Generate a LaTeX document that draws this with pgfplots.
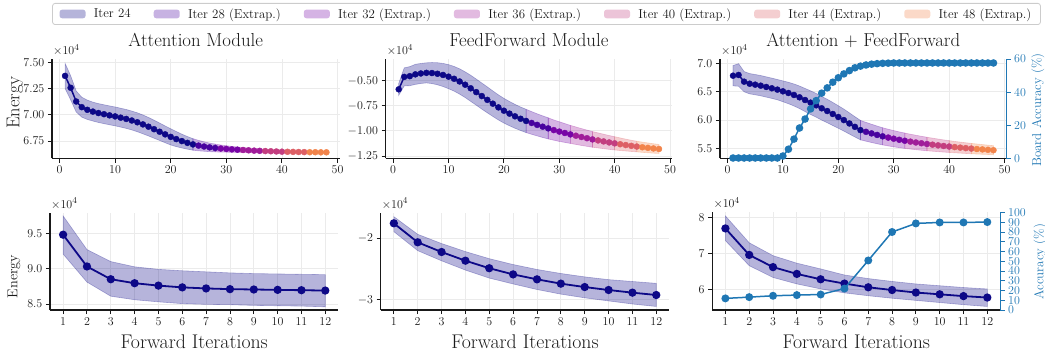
\documentclass[border=0pt]{standalone}
\usepackage{pgfplots}
\pgfplotsset{compat=1.18}
\usepackage{pgfplotstable}
\usepgfplotslibrary{fillbetween}

\definecolor{cA}{HTML}{0D0887}
\definecolor{cB}{HTML}{48039F}
\definecolor{cC}{HTML}{7705A6}
\definecolor{cD}{HTML}{A01C9A}
\definecolor{cE}{HTML}{C33E80}
\definecolor{cF}{HTML}{DD5F65}
\definecolor{cG}{HTML}{F2844B}
\definecolor{tabblue}{HTML}{1F77B4}
\definecolor{gridc}{HTML}{EBEBEB}
\definecolor{txt}{HTML}{1A1A1A}

\newcommand{\tickfont}{\fontsize{12.9}{15}\selectfont}

\pgfplotstableread{
x y lo hi
1 7.370 7.250 7.490
2 7.257 7.142 7.372
3 7.126 7.026 7.226
4 7.072 6.977 7.167
5 7.047 6.955 7.139
6 7.030 6.940 7.120
7 7.016 6.926 7.106
8 7.005 6.915 7.095
9 6.994 6.904 7.084
10 6.984 6.894 7.074
11 6.972 6.882 7.062
12 6.960 6.870 7.050
13 6.945 6.855 7.035
14 6.928 6.838 7.018
15 6.908 6.818 6.998
16 6.886 6.798 6.974
17 6.862 6.776 6.948
18 6.838 6.755 6.921
19 6.813 6.733 6.893
20 6.789 6.712 6.866
21 6.768 6.696 6.840
22 6.749 6.683 6.815
23 6.732 6.672 6.792
24 6.717 6.662 6.772
25 6.706 6.656 6.756
26 6.697 6.652 6.742
27 6.689 6.648 6.730
28 6.683 6.646 6.720
29 6.678 6.644 6.712
30 6.674 6.643 6.705
31 6.670 6.642 6.698
32 6.667 6.641 6.693
33 6.664 6.640 6.688
34 6.661 6.639 6.683
35 6.658 6.638 6.678
36 6.656 6.638 6.674
37 6.654 6.637 6.671
38 6.652 6.636 6.668
39 6.650 6.635 6.665
40 6.648 6.634 6.662
41 6.647 6.634 6.660
42 6.646 6.633 6.659
43 6.645 6.633 6.657
44 6.644 6.632 6.656
45 6.643 6.632 6.654
46 6.643 6.632 6.654
47 6.642 6.632 6.652
48 6.642 6.632 6.652
}\attnT

\pgfplotstableread{
x y lo hi
1 -0.586 -0.646 -0.526
2 -0.462 -0.552 -0.372
3 -0.455 -0.550 -0.360
4 -0.437 -0.537 -0.337
5 -0.428 -0.528 -0.328
6 -0.422 -0.522 -0.322
7 -0.424 -0.529 -0.319
8 -0.431 -0.541 -0.321
9 -0.443 -0.558 -0.328
10 -0.460 -0.580 -0.340
11 -0.481 -0.604 -0.358
12 -0.508 -0.634 -0.382
13 -0.540 -0.668 -0.412
14 -0.576 -0.706 -0.446
15 -0.614 -0.744 -0.484
16 -0.653 -0.783 -0.523
17 -0.691 -0.820 -0.562
18 -0.729 -0.856 -0.602
19 -0.766 -0.891 -0.641
20 -0.799 -0.922 -0.676
21 -0.828 -0.949 -0.707
22 -0.855 -0.974 -0.736
23 -0.879 -0.996 -0.762
24 -0.901 -1.017 -0.785
25 -0.921 -1.034 -0.808
26 -0.940 -1.050 -0.830
27 -0.958 -1.066 -0.850
28 -0.975 -1.080 -0.870
29 -0.992 -1.093 -0.891
30 -1.007 -1.105 -0.909
31 -1.021 -1.115 -0.927
32 -1.035 -1.125 -0.945
33 -1.048 -1.135 -0.961
34 -1.061 -1.145 -0.977
35 -1.073 -1.154 -0.992
36 -1.085 -1.163 -1.007
37 -1.095 -1.170 -1.020
38 -1.105 -1.177 -1.033
39 -1.115 -1.184 -1.046
40 -1.124 -1.190 -1.058
41 -1.133 -1.196 -1.070
42 -1.141 -1.200 -1.082
43 -1.149 -1.205 -1.093
44 -1.156 -1.209 -1.103
45 -1.163 -1.214 -1.112
46 -1.169 -1.218 -1.120
47 -1.175 -1.222 -1.128
48 -1.180 -1.225 -1.135
}\ffT

\pgfplotstableread{
x y lo hi
1 6.787 6.607 6.967
2 6.800 6.600 7.000
3 6.681 6.501 6.861
4 6.645 6.465 6.825
5 6.628 6.448 6.808
6 6.610 6.430 6.790
7 6.587 6.407 6.767
8 6.564 6.384 6.744
9 6.540 6.360 6.720
10 6.510 6.325 6.695
11 6.480 6.290 6.670
12 6.445 6.250 6.640
13 6.404 6.204 6.604
14 6.356 6.151 6.561
15 6.309 6.099 6.519
16 6.262 6.052 6.472
17 6.209 5.999 6.419
18 6.161 5.953 6.369
19 6.108 5.903 6.313
20 6.055 5.855 6.255
21 6.000 5.805 6.195
22 5.940 5.752 6.128
23 5.880 5.700 6.060
24 5.822 5.650 5.994
25 5.792 5.625 5.959
26 5.764 5.602 5.926
27 5.737 5.580 5.894
28 5.712 5.560 5.864
29 5.690 5.542 5.838
30 5.670 5.526 5.814
31 5.651 5.511 5.791
32 5.634 5.498 5.770
33 5.618 5.486 5.750
34 5.603 5.475 5.731
35 5.589 5.465 5.713
36 5.576 5.456 5.696
37 5.564 5.448 5.680
38 5.552 5.440 5.664
39 5.541 5.433 5.649
40 5.531 5.426 5.636
41 5.521 5.420 5.622
42 5.512 5.414 5.610
43 5.503 5.408 5.598
44 5.495 5.403 5.587
45 5.487 5.398 5.576
46 5.480 5.394 5.566
47 5.473 5.390 5.556
48 5.466 5.386 5.546
}\bothT

\pgfplotstableread{
x a
1 0.3
2 0.3
3 0.3
4 0.3
5 0.3
6 0.3
7 0.3
8 0.3
9 0.3
10 1.5
11 5.6
12 11.7
13 18.4
14 23.8
15 29.9
16 34.9
17 39.4
18 42.6
19 46.0
20 48.7
21 51.0
22 53.0
23 54.7
24 55.7
25 56.4
26 56.9
27 57.2
28 57.4
29 57.5
30 57.6
31 57.6
32 57.6
33 57.6
34 57.6
35 57.6
36 57.6
37 57.6
38 57.6
39 57.6
40 57.6
41 57.6
42 57.6
43 57.6
44 57.6
45 57.6
46 57.6
47 57.6
48 57.6
}\accTopT

\pgfplotstableread{
x y lo hi
1 9.480 9.206 9.746
2 9.031 8.810 9.270
3 8.850 8.610 9.100
4 8.794 8.560 9.026
5 8.760 8.530 8.990
6 8.735 8.505 8.970
7 8.720 8.495 8.955
8 8.710 8.490 8.940
9 8.705 8.480 8.930
10 8.700 8.475 8.925
11 8.695 8.470 8.920
12 8.690 8.460 8.915
}\attnB

\pgfplotstableread{
x y lo hi
1 -1.762 -1.897 -1.654
2 -2.070 -2.205 -1.940
3 -2.227 -2.370 -2.090
4 -2.368 -2.520 -2.220
5 -2.490 -2.650 -2.335
6 -2.590 -2.745 -2.430
7 -2.670 -2.835 -2.510
8 -2.740 -2.910 -2.575
9 -2.795 -2.970 -2.630
10 -2.843 -3.020 -2.675
11 -2.886 -3.070 -2.705
12 -2.924 -3.110 -2.735
}\ffB

\pgfplotstableread{
x y lo hi
1 7.700 7.360 8.050
2 6.960 6.660 7.300
3 6.620 6.330 6.940
4 6.430 6.150 6.730
5 6.280 6.010 6.570
6 6.160 5.900 6.400
7 6.056 5.820 6.300
8 5.980 5.750 6.220
9 5.910 5.690 6.150
10 5.860 5.630 6.100
11 5.810 5.570 6.050
12 5.770 5.520 6.010
}\bothB

\pgfplotstableread{
x a
1 11.9
2 13.2
3 14.6
4 15.3
5 15.9
6 22.0
7 50.8
8 80.0
9 88.8
10 89.8
11 89.8
12 90.2
}\accBotT

\pgfplotsset{
  base/.style={
    scale only axis, anchor=south west, clip=false,
    axis x line*=bottom, axis y line*=left,
    axis line style={line width=1.1pt, black!90},
    tick align=outside, major tick length=4.2pt,
    tick style={line width=0.9pt, black!90},
    xmajorgrids, ymajorgrids,
    grid style={line width=0.8pt, gridc},
    tick label style={font=\tickfont, text=txt},
    title style={font=\fontsize{18.8}{21}\selectfont, text=txt, at={(0.5,1)}, anchor=base, yshift=6.3pt},
    xlabel style={font=\fontsize{19.8}{22}\selectfont, text=txt, at={(axis description cs:0.5,0)}, anchor=base, yshift=-38.3pt},
    scaled y ticks=false, scaled x ticks=false,
  },
  toprow/.style={base, height=99.5pt, xmin=-1.35, xmax=50.35, xtick={0,10,20,30,40,50}},
  botrow/.style={base, height=97.5pt, xmin=0.45, xmax=12.55, xtick={1,2,3,4,5,6,7,8,9,10,11,12}, xlabel={Forward Iterations}},
  twin/.style={scale only axis, anchor=south west, clip=false,
    axis x line=none, axis y line*=right,
    axis line style={line width=1.3pt, tabblue},
    tick align=outside, major tick length=4.2pt,
    tick style={line width=0.9pt, tabblue},
    tick label style={font=\tickfont, text=tabblue, inner ysep=0pt},
    ylabel style={font=\tickfont, text=tabblue, anchor=center, inner sep=0pt}},
  band/.style={fill=#1, fill opacity=0.3, draw=#1, draw opacity=0.3, line width=0.6pt, forget plot},
  eline/.style={#1, line width=1.5pt, forget plot},
  emark/.style={only marks, mark=*, mark size=3pt, mark options={fill=#1, draw=#1}, forget plot},
  two/.style={y tick label style={/pgf/number format/fixed, /pgf/number format/fixed zerofill, /pgf/number format/precision=2}},
  one/.style={y tick label style={/pgf/number format/fixed, /pgf/number format/fixed zerofill, /pgf/number format/precision=1}},
}

\newcommand{\tenfour}{\node[anchor=base west, font=\tickfont, text=txt, inner sep=0pt, xshift=1pt, yshift=4.5pt] at (rel axis cs:0,1) {$\times10^{4}$};}

\newcommand{\segplots}[1]{%
  \addplot[draw=none, name path=up, forget plot] table[x=x,y=hi]{#1};
  \addplot[draw=none, name path=lo, forget plot] table[x=x,y=lo]{#1};
  \addplot[band=cA] fill between[of=up and lo, soft clip={domain=1:24}];
  \addplot[band=cB] fill between[of=up and lo, soft clip={domain=24:28}];
  \addplot[band=cC] fill between[of=up and lo, soft clip={domain=28:32}];
  \addplot[band=cD] fill between[of=up and lo, soft clip={domain=32:36}];
  \addplot[band=cE] fill between[of=up and lo, soft clip={domain=36:40}];
  \addplot[band=cF] fill between[of=up and lo, soft clip={domain=40:44}];
  \addplot[band=cG] fill between[of=up and lo, soft clip={domain=44:48}];
  \addplot[eline=cA, restrict x to domain=1:24] table[x=x,y=y]{#1};
  \addplot[eline=cB, restrict x to domain=24:28] table[x=x,y=y]{#1};
  \addplot[eline=cC, restrict x to domain=28:32] table[x=x,y=y]{#1};
  \addplot[eline=cD, restrict x to domain=32:36] table[x=x,y=y]{#1};
  \addplot[eline=cE, restrict x to domain=36:40] table[x=x,y=y]{#1};
  \addplot[eline=cF, restrict x to domain=40:44] table[x=x,y=y]{#1};
  \addplot[eline=cG, restrict x to domain=44:48] table[x=x,y=y]{#1};
  \addplot[emark=cA, restrict x to domain=1:24] table[x=x,y=y]{#1};
  \addplot[emark=cB, restrict x to domain=24.5:28] table[x=x,y=y]{#1};
  \addplot[emark=cC, restrict x to domain=28.5:32] table[x=x,y=y]{#1};
  \addplot[emark=cD, restrict x to domain=32.5:36] table[x=x,y=y]{#1};
  \addplot[emark=cE, restrict x to domain=36.5:40] table[x=x,y=y]{#1};
  \addplot[emark=cF, restrict x to domain=40.5:44] table[x=x,y=y]{#1};
  \addplot[emark=cG, restrict x to domain=44.5:48] table[x=x,y=y]{#1};
}

\newcommand{\botplots}[1]{%
  \addplot[draw=none, name path=up, forget plot] table[x=x,y=hi]{#1};
  \addplot[draw=none, name path=lo, forget plot] table[x=x,y=lo]{#1};
  \addplot[band=cA] fill between[of=up and lo];
  \addplot[cA, line width=1.8pt, mark=*, mark size=3.2pt, mark options={fill=cA, draw=cA}, forget plot] table[x=x,y=y]{#1};
}

\begin{document}
\begin{tikzpicture}

% ---------- top row ----------
\begin{axis}[toprow, two, at={(52pt,195.5pt)}, width=287.5pt,
  ymin=6.583, ymax=7.531, ytick={6.75,7,7.25,7.5},
  title={Attention Module},
  ylabel={Energy},
  ylabel style={font=\fontsize{18.5}{20}\selectfont, text=txt, at={(axis description cs:-0.129,0.563)}, anchor=center},
  legend columns=7,
  legend style={at={(axis description cs:1.72,1.5628)}, anchor=north, draw=black!20, line width=0.8pt,
    rounded corners=2.5pt, fill=white, font=\tickfont, text=txt, inner xsep=7pt, inner ysep=3pt,
    /tikz/every odd column/.append style={column sep=6.3pt},
    /tikz/every even column/.append style={column sep=21pt}},
  legend image code/.code={\fill[#1] (0pt,-4.3pt) rectangle (26pt,4.3pt);},
]
\segplots{\attnT}
\tenfour
\addlegendimage{fill=cA, fill opacity=0.3, draw=none}
\addlegendentry{Iter 24}
\addlegendimage{fill=cB, fill opacity=0.3, draw=none}
\addlegendentry{Iter 28 (Extrap.)}
\addlegendimage{fill=cC, fill opacity=0.3, draw=none}
\addlegendentry{Iter 32 (Extrap.)}
\addlegendimage{fill=cD, fill opacity=0.3, draw=none}
\addlegendentry{Iter 36 (Extrap.)}
\addlegendimage{fill=cE, fill opacity=0.3, draw=none}
\addlegendentry{Iter 40 (Extrap.)}
\addlegendimage{fill=cF, fill opacity=0.3, draw=none}
\addlegendentry{Iter 44 (Extrap.)}
\addlegendimage{fill=cG, fill opacity=0.3, draw=none}
\addlegendentry{Iter 48 (Extrap.)}
\end{axis}

\begin{axis}[toprow, two, at={(385.7pt,195.5pt)}, width=286.3pt,
  ymin=-1.275, ymax=-0.284, ytick={-1.25,-1,-0.75,-0.5},
  title={FeedForward Module}]
\segplots{\ffT}
\tenfour
\end{axis}

\begin{axis}[toprow, one, at={(720pt,195.5pt)}, width=286.5pt,
  ymin=5.319, ymax=7.083, ytick={5.5,6,6.5,7},
  title={Attention + FeedForward}]
\segplots{\bothT}
\tenfour
\end{axis}

\begin{axis}[twin, at={(720pt,195.5pt)}, width=286.5pt, height=99.5pt,
  xmin=-1.35, xmax=50.35, ymin=0, ymax=60, ytick={0,20,40,60},
  ylabel={Board Accuracy (\%)},
  ylabel style={at={(axis description cs:1.11,0.487)}}]
\addplot[tabblue, line width=1.5pt, mark=*, mark size=3pt, mark options={fill=tabblue, draw=tabblue}] table[x=x,y=a]{\accTopT};
\end{axis}

% ---------- bottom row ----------
\begin{axis}[botrow, one, at={(50pt,44pt)}, width=288.4pt,
  ymin=8.415, ymax=9.794, ytick={8.5,9,9.5},
  ylabel={Energy},
  ylabel style={font=\fontsize{14.3}{16}\selectfont, text=txt, at={(axis description cs:-0.125,0.344)}, anchor=center}]
\botplots{\attnB}
\tenfour
\end{axis}

\begin{axis}[botrow, at={(380.7pt,44pt)}, width=288.7pt,
  ymin=-3.167, ymax=-1.587, ytick={-3,-2}]
\botplots{\ffB}
\tenfour
\end{axis}

\begin{axis}[botrow, at={(712.3pt,44pt)}, width=288.1pt,
  ymin=5.422, ymax=8.145, ytick={6,7,8}]
\botplots{\bothB}
\tenfour
\end{axis}

\begin{axis}[twin, at={(712.3pt,44pt)}, width=288.1pt, height=97.5pt,
  xmin=0.45, xmax=12.55, ymin=0, ymax=100, ytick={0,10,20,30,40,50,60,70,80,90,100},
  ylabel={Accuracy (\%)},
  ylabel style={at={(axis description cs:1.138,0.495)}}]
\addplot[tabblue, line width=1.5pt, mark=*, mark size=3.2pt, mark options={fill=tabblue, draw=tabblue}] table[x=x,y=a]{\accBotT};
\end{axis}

\pgfresetboundingbox
\path (0pt,0pt) rectangle (1045pt,354pt);
\end{tikzpicture}
\end{document}
